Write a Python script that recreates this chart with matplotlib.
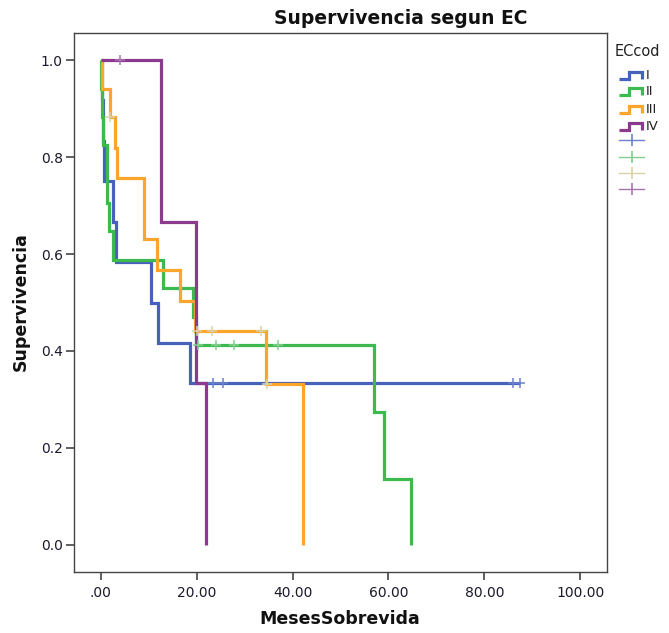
import numpy as np
import matplotlib
matplotlib.use("Agg")
import matplotlib.pyplot as plt
from matplotlib.lines import Line2D

plt.rcParams['font.family'] = ['DejaVu Sans']

# ---------------- data ----------------
groups = ["I", "II", "III", "IV"]
legend_title = "ECcod"
title = "Supervivencia segun EC"
xlabel = "MesesSobrevida"
ylabel = "Supervivencia"

# step times (drops) and survival after each drop; last entry = end of curve
times_I = [0.0, 0.3, 0.5, 0.6, 2.6, 3.1, 10.5, 12.0, 18.7, 87.4]
surv_I = [1.0, 0.917, 0.833, 0.750, 0.667, 0.583, 0.500, 0.417, 0.333, 0.333]
cens_t_I = [23.3, 25.4, 86.0, 87.4]
cens_s_I = [0.333, 0.333, 0.333, 0.333]

times_II = [0.0, 0.1, 0.2, 0.4, 1.2, 1.25, 1.7, 2.5, 13.0, 19.2, 19.8, 57.0, 59.1, 64.8]
surv_II = [1.0, 0.941, 0.882, 0.824, 0.765, 0.706, 0.647, 0.588, 0.529, 0.471, 0.412, 0.275, 0.137, 0.0]
cens_t_II = [20.3, 24.1, 27.7, 37.0]
cens_s_II = [0.412, 0.412, 0.412, 0.412]

times_III = [0.0, 0.3, 1.9, 3.0, 3.4, 8.9, 11.8, 16.5, 19.7, 34.5, 42.1]
surv_III = [1.0, 0.941, 0.882, 0.819, 0.756, 0.630, 0.567, 0.504, 0.441, 0.331, 0.0]
cens_t_III = [1.9, 20.0, 23.2, 33.4, 34.7]
cens_s_III = [0.882, 0.441, 0.441, 0.441, 0.331]

times_IV = [0.0, 12.6, 19.9, 21.9]
surv_IV = [1.0, 0.667, 0.333, 0.0]
cens_t_IV = [4.1]
cens_s_IV = [1.0]

xticks = [0, 20, 40, 60, 80, 100]
xticklabels = [".00", "20.00", "40.00", "60.00", "80.00", "100.00"]
yticks = [0.0, 0.2, 0.4, 0.6, 0.8, 1.0]
yticklabels = ["0.0", "0.2", "0.4", "0.6", "0.8", "1.0"]

# ---------------- style ----------------
line_colors = ["#4763B9", "#3DB94F", "#FBA52A", "#8B3A8E"]
cens_colors = ["#6A80CC", "#82D08E", "#D9D2A6", "#A874AE"]

W, H = 669, 633
fig = plt.figure(figsize=(W / 100, H / 100), dpi=100)

def fx(px):
    return px / W

def fy(py):
    return 1 - py / H

ax = fig.add_axes([fx(74), fy(572), (607 - 74) / W, (572 - 33) / H])

series = [
    (times_I, surv_I, cens_t_I, cens_s_I),
    (times_II, surv_II, cens_t_II, cens_s_II),
    (times_III, surv_III, cens_t_III, cens_s_III),
    (times_IV, surv_IV, cens_t_IV, cens_s_IV),
]

for i, (t, s, ct, cs) in enumerate(series):
    ax.plot(t, s, drawstyle="steps-post", color=line_colors[i], lw=2.3,
            solid_capstyle="butt", solid_joinstyle="miter", zorder=2 + i)
for i, (t, s, ct, cs) in enumerate(series):
    ax.plot(ct, cs, ls="none", marker="+", ms=7, mew=1.1,
            color=cens_colors[i], zorder=10)

ax.set_xlim(-5.6, 105.6)
ax.set_ylim(-0.0557, 1.0557)
ax.set_xticks(xticks)
ax.set_xticklabels(xticklabels, fontsize=10, color="#1a1a2a")
ax.set_yticks(yticks)
ax.set_yticklabels(yticklabels, fontsize=10, color="#1a1a2a")
ax.tick_params(axis="both", direction="out", length=6, width=1.2,
               color="#444444", pad=2)
ax.tick_params(axis="x", pad=4)
for sp in ax.spines.values():
    sp.set_color("#444444")
    sp.set_linewidth(1.0)

fig.text(fx(401), fy(19), title, ha="center", va="center",
         fontsize=13.5, fontweight="bold", color="#111111")
fig.text(fx(340), fy(619), xlabel, ha="center", va="center",
         fontsize=12.5, fontweight="bold", color="#111111")
fig.text(fx(21), fy(302), ylabel, ha="center", va="center", rotation=90,
         fontsize=12.5, fontweight="bold", color="#111111")

# ---------------- legend (manual) ----------------
fig.text(fx(615), fy(51), legend_title, ha="left", va="center",
         fontsize=10.5, color="#222222")
leg_y = [75, 91, 109, 126]
for i, g in enumerate(groups):
    y0 = leg_y[i]
    xs = [619, 629, 629, 642, 642]
    ys = [y0 + 3.5, y0 + 3.5, y0 - 3.5, y0 - 3.5, y0 + 4]
    fig.add_artist(Line2D([fx(v) for v in xs], [fy(v) for v in ys],
                          color=line_colors[i], lw=2.3,
                          solid_joinstyle="miter", solid_capstyle="butt",
                          transform=fig.transFigure))
    fig.text(fx(646), fy(y0 + 0.5), g, ha="left", va="center",
             fontsize=9.5, color="#222222")
cross_y = [140, 157, 173, 189]
for i in range(4):
    y0 = cross_y[i]
    fig.add_artist(Line2D([fx(619), fx(644)], [fy(y0), fy(y0)],
                          color=cens_colors[i], lw=1.0,
                          transform=fig.transFigure))
    fig.add_artist(Line2D([fx(631.5)], [fy(y0)], ls="none", marker="|",
                          ms=8, mew=1.2, color=cens_colors[i],
                          transform=fig.transFigure))

fig.savefig("out.png", dpi=100)
